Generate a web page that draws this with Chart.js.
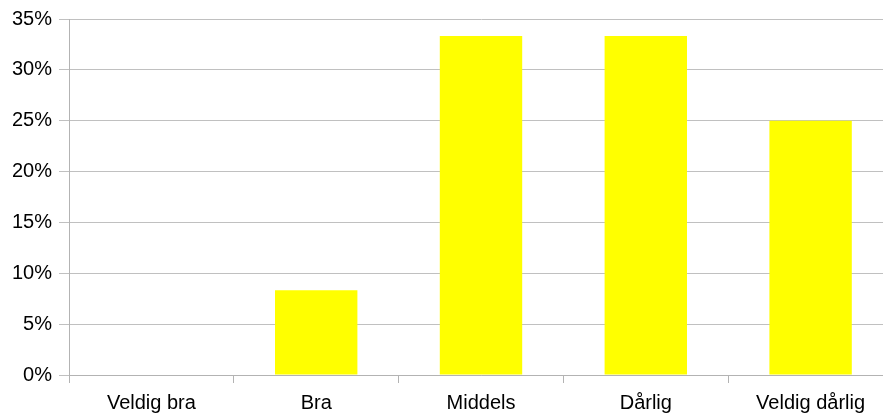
<!DOCTYPE html>
<html>
<head>
<meta charset="utf-8">
<script src="https://cdn.jsdelivr.net/npm/chart.js@4/dist/chart.umd.min.js"></script>
<style>
  html, body { margin: 0; padding: 0; background: #fff; overflow: hidden; }
  #wrap { position: relative; width: 893px; height: 419px; }
</style>
</head>
<body>
<div id="wrap"><canvas id="chart"></canvas></div>
<script>
const categories = ['Veldig bra', 'Bra', 'Middels', 'Dårlig', 'Veldig dårlig'];
const shares = [0, 8.33, 33.33, 33.33, 25]; // percent
const yTicks = [0, 5, 10, 15, 20, 25, 30, 35];

const FONT = { family: '"Liberation Sans", Arial, sans-serif', size: 20 };

const ctx = document.getElementById('chart');
const chart = new Chart(ctx, {
  type: 'bar',
  data: {
    labels: categories,
    datasets: [{
      data: shares,
      backgroundColor: '#ffff00',
      borderWidth: 0,
      barPercentage: 0.5,
      categoryPercentage: 1
    }]
  },
  options: {
    responsive: true,
    maintainAspectRatio: false,
    animation: false,
    layout: { padding: { top: 19, left: 0, right: 0, bottom: 0 } },
    plugins: { legend: { display: false }, tooltip: { enabled: false } },
    scales: {
      x: {
        grid: { display: true, offset: true, drawOnChartArea: false, drawTicks: true, tickLength: 8, color: '#b3b3b3' },
        border: { color: '#b3b3b3' },
        ticks: { color: '#000', font: FONT, padding: 8, maxRotation: 0, autoSkip: false },
        afterFit: s => { s.height = 44; }
      },
      y: {
        min: 0,
        max: 35,
        afterBuildTicks: s => { s.ticks = yTicks.map(v => ({ value: v })); },
        grid: { color: '#c0c0c0', tickLength: 10 },
        border: { color: '#b3b3b3' },
        ticks: { color: '#000', font: FONT, padding: 7, callback: v => v + '%' },
        afterFit: s => { s.width = 69; }
      }
    }
  }
});
</script>
</body>
</html>
